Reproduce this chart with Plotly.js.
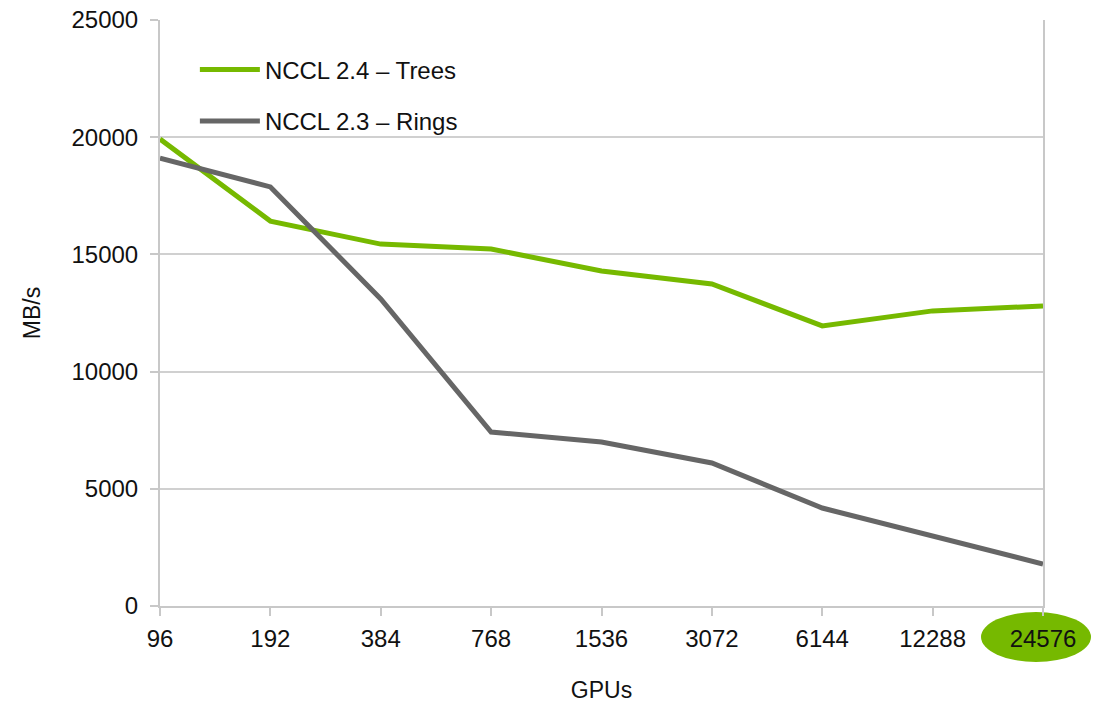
<!DOCTYPE html>
<html>
<head>
<meta charset="utf-8">
<script src="https://cdn.plot.ly/plotly-3.0.1.min.js"></script>
<style>html,body{margin:0;padding:0;background:#fff;}#chart{width:1095px;height:703px;}</style>
</head>
<body>
<div id="chart"></div>
<script>
const gpus = ["96", "192", "384", "768", "1536", "3072", "6144", "12288", "24576"];
const trees = [19920, 16420, 15440, 15230, 14290, 13740, 11950, 12590, 12800];
const rings = [19110, 17880, 13100, 7420, 7000, 6100, 4180, 2990, 1790];
const treesName = "NCCL 2.4 – Trees";
const ringsName = "NCCL 2.3 – Rings";
const yTicks = [0, 5000, 10000, 15000, 20000, 25000];

const green = "#76b900";
const gray = "#666666";
const font = "Liberation Sans, Arial, sans-serif";

const data = [
  {x: gpus, y: trees, name: treesName, type: "scatter", mode: "lines",
   line: {color: green, width: 5}, legend: "legend"},
  {x: gpus, y: rings, name: ringsName, type: "scatter", mode: "lines",
   line: {color: gray, width: 5}, legend: "legend2"}
];

const legendBase = {
  font: {family: font, size: 24, color: "#111"},
  bgcolor: "rgba(0,0,0,0)", borderwidth: 0,
  xanchor: "left", yanchor: "middle", itemwidth: 60
};

const layout = {
  width: 1095, height: 703,
  margin: {l: 160, r: 52, t: 20, b: 97},
  paper_bgcolor: "#fff", plot_bgcolor: "#fff",
  font: {family: font, color: "#111"},
  showlegend: true,
  legend: Object.assign({}, legendBase, {x: 0.0395, y: 0.915}),
  legend2: Object.assign({}, legendBase, {x: 0.0395, y: 0.827}),
  xaxis: {
    type: "category", range: [0, 8],
    showgrid: false, showline: true, linecolor: "#c8c8c8", linewidth: 2,
    ticks: "outside", ticklen: 8, tickcolor: "#c8c8c8", tickwidth: 2,
    ticklabelstandoff: 2,
    tickfont: {family: font, size: 24, color: "#111"},
    title: {text: "GPUs", font: {family: font, size: 23, color: "#111"}, standoff: 32},
    zeroline: false
  },
  yaxis: {
    range: [0, 25000], tickvals: yTicks, ticktext: yTicks.map(String),
    showgrid: true, gridcolor: "#d0d0d0", gridwidth: 2,
    showline: true, mirror: true, linecolor: "#c8c8c8", linewidth: 2,
    ticks: "outside", ticklen: 8, tickcolor: "#c8c8c8", tickwidth: 2,
    ticklabelstandoff: 7,
    tickfont: {family: font, size: 24, color: "#111"},
    title: {text: "MB/s", font: {family: font, size: 23, color: "#111"}, standoff: 24},
    zeroline: false
  },
  shapes: [{
    type: "circle", layer: "below",
    xref: "x domain", yref: "y domain",
    xsizemode: "pixel", ysizemode: "pixel",
    xanchor: 1, yanchor: 0,
    x0: -62, x1: 48, y0: -56, y1: -6,
    fillcolor: green, line: {width: 0}
  }]
};

Plotly.newPlot("chart", data, layout, {displayModeBar: false, staticPlot: true});
</script>
</body>
</html>
